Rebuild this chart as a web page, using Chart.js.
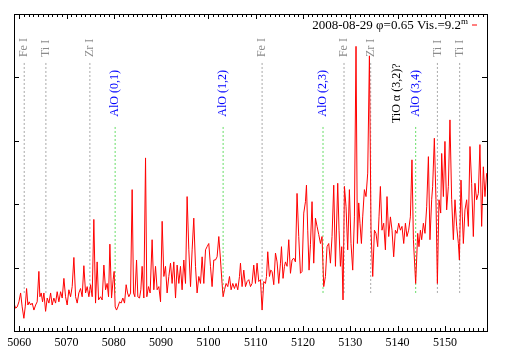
<!DOCTYPE html>
<html>
<head>
<meta charset="utf-8">
<script src="https://cdn.jsdelivr.net/npm/chart.js@4.4.1/dist/chart.umd.min.js"></script>
<style>
  html, body { margin: 0; padding: 0; background: #fff; }
  canvas { display: block; }
</style>
</head>
<body>
<canvas id="spectrum" width="509" height="356"></canvas>
<script>
// wavelength (A) and relative flux
const wavelength = [
  5058.88, 5059.24, 5059.58, 5059.94, 5060.30, 5060.63, 5060.99, 5061.27, 5061.56, 5061.84,
  5062.11, 5062.41, 5062.75, 5063.11, 5063.47, 5063.80, 5064.16, 5064.37, 5064.65, 5064.94,
  5065.22, 5065.58, 5065.92, 5066.28, 5066.64, 5066.97, 5067.33, 5067.69, 5068.03, 5068.39,
  5068.75, 5069.09, 5069.45, 5069.80, 5070.14, 5070.50, 5070.86, 5071.20, 5071.56, 5071.92,
  5072.26, 5072.61, 5072.97, 5073.31, 5073.67, 5074.03, 5074.37, 5074.73, 5075.09, 5075.43,
  5075.78, 5076.14, 5076.48, 5076.78, 5077.20, 5077.54, 5077.90, 5078.26, 5078.59, 5078.89,
  5079.17, 5079.52, 5079.86, 5080.07, 5080.29, 5080.58, 5080.86, 5081.22, 5081.55, 5081.91,
  5082.27, 5082.61, 5082.91, 5083.18, 5083.54, 5083.88, 5084.17, 5084.45, 5084.81, 5085.08,
  5085.44, 5085.72, 5085.99, 5086.35, 5086.71, 5086.98, 5087.34, 5087.68, 5088.10, 5088.46,
  5088.82, 5089.16, 5089.52, 5089.88, 5090.22, 5090.58, 5090.93, 5091.27, 5091.63, 5091.99,
  5092.33, 5092.69, 5093.05, 5093.39, 5093.75, 5094.10, 5094.44, 5094.80, 5095.16, 5095.50,
  5095.86, 5096.22, 5096.56, 5096.91, 5097.27, 5097.61, 5097.97, 5098.33, 5098.67, 5099.03,
  5099.39, 5099.72, 5100.08, 5100.44, 5100.78, 5101.14, 5101.50, 5101.84, 5102.20, 5102.56,
  5102.89, 5103.11, 5103.40, 5103.74, 5104.10, 5104.46, 5104.80, 5105.16, 5105.51, 5105.85,
  5106.21, 5106.57, 5106.78, 5107.12, 5107.48, 5107.84, 5108.18, 5108.54, 5108.90, 5109.23,
  5109.59, 5109.95, 5110.29, 5110.65, 5111.01, 5111.35, 5111.71, 5112.06, 5112.28, 5112.55,
  5112.91, 5113.18, 5113.46, 5113.82, 5114.18, 5114.52, 5114.87, 5115.23, 5115.45, 5115.78,
  5116.08, 5116.29, 5116.63, 5116.99, 5117.35, 5117.69, 5118.04, 5118.40, 5118.74, 5119.10,
  5119.46, 5119.80, 5120.16, 5120.52, 5120.73, 5121.00, 5121.28, 5121.57, 5121.91, 5122.27,
  5122.63, 5122.97, 5123.33, 5123.69, 5124.02, 5124.38, 5124.74, 5125.08, 5125.44, 5125.80,
  5126.14, 5126.50, 5126.86, 5127.34, 5127.62, 5127.91, 5128.19, 5128.46, 5128.76, 5129.10,
  5129.45, 5129.81, 5130.15, 5130.51, 5130.87, 5131.21, 5131.50, 5131.78, 5132.05, 5132.35,
  5132.62, 5132.98, 5133.32, 5133.68, 5134.04, 5134.38, 5134.74, 5135.10, 5135.43, 5135.79,
  5136.07, 5136.36, 5136.70, 5137.06, 5137.42, 5137.76, 5138.12, 5138.48, 5138.82, 5139.17,
  5139.53, 5139.87, 5140.23, 5140.59, 5140.93, 5141.29, 5141.65, 5141.98, 5142.34, 5142.70,
  5143.04, 5143.34, 5143.82, 5144.25, 5144.52, 5144.82, 5145.09, 5145.45, 5145.79, 5146.15,
  5146.51, 5146.84, 5147.20, 5147.41, 5147.77, 5148.11, 5148.41, 5148.75, 5149.11, 5149.32,
  5149.68, 5150.01, 5150.37, 5150.73, 5151.07, 5151.43, 5151.79, 5152.13, 5152.49, 5152.85,
  5153.06, 5153.40, 5153.69, 5153.90, 5154.24, 5154.60, 5154.96, 5155.30, 5155.65, 5156.01,
  5156.35, 5156.71, 5157.07, 5157.41, 5157.77, 5158.13, 5158.47, 5158.83
];
const flux = [
  0.44, 0.36, 0.38, 0.46, 0.60, 0.38, 0.20, 0.38, 0.67, 0.41,
  0.46, 0.41, 0.44, 0.33, 0.41, 0.46, 0.94, 0.54, 0.60, 0.46,
  0.60, 0.31, 0.52, 0.44, 0.60, 0.41, 0.52, 0.44, 0.62, 0.46,
  0.62, 0.52, 0.83, 0.54, 0.41, 0.65, 0.54, 0.70, 1.16, 0.54,
  0.44, 0.60, 0.67, 0.54, 1.03, 0.60, 0.70, 0.54, 0.73, 0.54,
  1.76, 0.44, 1.09, 0.49, 0.54, 0.49, 1.04, 0.65, 0.75, 0.54,
  1.37, 0.52, 0.81, 0.94, 0.38, 0.33, 0.38, 0.46, 0.44, 0.52,
  0.44, 0.73, 0.60, 0.54, 0.60, 2.23, 0.60, 0.54, 1.12, 0.54,
  0.52, 0.65, 1.02, 0.52, 2.73, 0.54, 0.70, 0.60, 1.44, 0.65,
  1.02, 0.65, 0.70, 0.46, 1.73, 0.86, 1.02, 0.60, 0.86, 1.07,
  0.75, 1.09, 0.52, 1.04, 0.75, 1.02, 0.65, 1.12, 0.75, 2.12,
  1.28, 0.70, 1.28, 1.78, 1.02, 0.60, 0.86, 0.75, 1.17, 0.75,
  1.28, 1.33, 1.38, 1.02, 0.70, 1.12, 1.12, 1.17, 1.49, 1.12,
  0.75, 0.54, 0.65, 0.75, 0.70, 0.86, 0.65, 0.75, 0.67, 0.75,
  0.65, 0.86, 1.07, 0.70, 0.96, 0.70, 0.78, 0.81, 0.70, 0.75,
  1.04, 0.75, 1.07, 0.78, 0.81, 0.33, 0.78, 0.75, 0.86, 1.25,
  0.86, 0.96, 0.94, 0.73, 1.23, 1.09, 0.75, 1.07, 1.33, 0.83,
  1.02, 1.09, 1.02, 1.44, 0.91, 1.12, 1.15, 1.09, 2.17, 1.49,
  0.91, 0.94, 1.86, 2.04, 2.30, 1.59, 0.96, 1.36, 2.04, 1.07,
  1.78, 1.65, 1.52, 1.38, 1.49, 0.70, 0.86, 1.33, 1.38, 1.07,
  1.49, 2.30, 1.02, 2.33, 1.59, 1.02, 1.33, 0.49, 2.28, 1.96,
  1.28, 2.23, 1.38, 0.96, 1.80, 4.49, 1.38, 2.02, 1.70, 1.38,
  1.80, 2.23, 2.12, 2.49, 4.34, 1.59, 0.86, 1.59, 1.54, 1.33,
  1.80, 2.28, 1.59, 1.70, 1.28, 2.12, 1.49, 1.80, 1.59, 1.17,
  1.59, 1.54, 1.70, 1.59, 1.65, 1.38, 1.70, 1.49, 1.59, 1.80,
  2.70, 1.44, 0.75, 1.54, 1.33, 1.59, 1.44, 1.70, 1.54, 1.96,
  2.75, 1.44, 2.07, 2.28, 3.04, 2.07, 0.75, 2.07, 1.86, 2.80,
  2.12, 2.99, 1.91, 2.28, 3.33, 2.07, 1.44, 2.07, 1.65, 1.38,
  1.12, 2.38, 1.80, 1.38, 1.91, 2.07, 1.65, 2.91, 2.33, 1.49,
  2.33, 2.07, 2.17, 2.94, 1.65, 2.59, 2.12, 2.49
];
const xTicks = [5060, 5070, 5080, 5090, 5100, 5110, 5120, 5130, 5140, 5150];
const yTicks = [1, 2, 3, 4];

// atomic lines (grey) and AlO band heads (green)
const atomNames = ["Fe I", "Ti I", "Zr I", "Fe I", "Fe I", "Zr I", "Ti I", "Ti I"];
const atomWaves = [5061.06, 5065.64, 5074.94, 5111.35, 5128.67, 5134.31, 5148.41, 5153.12];
const bandNames = ["AlO (0,1)", "AlO (1,2)", "AlO (2,3)", "AlO (3,4)"];
const bandWaves = [5080.28, 5103.11, 5124.23, 5143.82];
const tioName = "TiO \u03b1 (3,2)?";
const tioWave = 5139.74;
const legendText = "2008-08-29 \u03c6=0.65 Vis.=9.2";

const SERIF = "'Liberation Serif', 'DejaVu Serif', serif";

function markerSet(waves, top, color) {
  return waves.map(w => ({
    data: [{ x: w, y: 0.6 }, { x: w, y: top }],
    borderColor: color,
    borderWidth: 1,
    borderDash: [2, 2],
    pointRadius: 0
  }));
}

const decorations = {
  id: "decorations",
  afterDraw(chart) {
    const { ctx, chartArea: a, scales: { x, y } } = chart;
    const L = Math.round(a.left), T = Math.round(a.top);
    const R = Math.round(a.right), B = Math.round(a.bottom);
    ctx.save();

    // frame
    ctx.strokeStyle = "#000";
    ctx.lineWidth = 1;
    ctx.strokeRect(L + 0.5, T + 0.5, R - L, B - T);

    // inward ticks, mirrored top/bottom and left/right
    ctx.beginPath();
    for (let w = Math.ceil(x.min); w <= x.max; w++) {
      const px = Math.round(x.getPixelForValue(w)) + 0.5;
      const len = w % 10 === 0 ? 5 : 3;
      ctx.moveTo(px, B); ctx.lineTo(px, B - len);
      ctx.moveTo(px, T); ctx.lineTo(px, T + len);
    }
    yTicks.forEach(v => {
      const py = Math.round(y.getPixelForValue(v)) + 0.5;
      ctx.moveTo(L, py); ctx.lineTo(L + 5, py);
      ctx.moveTo(R, py); ctx.lineTo(R - 5, py);
    });
    ctx.stroke();

    // rotated line identifications
    ctx.font = "12px " + SERIF;
    ctx.textAlign = "left";
    ctx.textBaseline = "middle";
    const vlabel = (text, wave, level, color) => {
      ctx.save();
      ctx.translate(x.getPixelForValue(wave), y.getPixelForValue(level));
      ctx.rotate(-Math.PI / 2);
      ctx.fillStyle = color;
      ctx.fillText(text, 0, 0);
      ctx.restore();
    };
    atomNames.forEach((n, i) => vlabel(n, atomWaves[i], 4.32, "#8c8c8c"));
    bandNames.forEach((n, i) => vlabel(n, bandWaves[i], 3.38, "#0000ff"));
    vlabel(tioName, tioWave, 3.28, "#000");

    // key
    ctx.fillStyle = "#000";
    ctx.font = "13px " + SERIF;
    ctx.textAlign = "right";
    ctx.textBaseline = "alphabetic";
    ctx.fillText(legendText, 461, 29);
    ctx.font = "9px " + SERIF;
    ctx.textAlign = "left";
    ctx.fillText("m", 461, 24);
    ctx.strokeStyle = "#ff0000";
    ctx.beginPath();
    ctx.moveTo(472, 25); ctx.lineTo(477, 25);
    ctx.stroke();

    ctx.restore();
  }
};

new Chart(document.getElementById("spectrum"), {
  type: "line",
  data: {
    datasets: [
      {
        data: wavelength.map((w, i) => ({ x: w, y: flux[i] })),
        borderColor: "#ff0000",
        borderWidth: 1,
        pointRadius: 0,
        tension: 0
      },
      ...markerSet(bandWaves, 3.23, "#66dd66"),
      ...markerSet(atomWaves, 4.23, "#a8a8a8")
    ]
  },
  options: {
    responsive: false,
    animation: false,
    layout: { padding: { left: 14, right: 22, top: 14, bottom: 0.6 } },
    plugins: { legend: { display: false }, tooltip: { enabled: false } },
    scales: {
      x: {
        type: "linear",
        min: 5058.9,
        max: 5158.9,
        grid: { display: false, drawTicks: false },
        border: { display: false },
        afterBuildTicks: axis => { axis.ticks = xTicks.map(v => ({ value: v })); },
        ticks: {
          padding: 5,
          color: "#000",
          font: { family: SERIF, size: 12 },
          maxRotation: 0,
          autoSkip: false,
          callback: v => String(v)
        }
      },
      y: { min: 0, max: 5, display: false }
    }
  },
  plugins: [decorations]
});
</script>
</body>
</html>
